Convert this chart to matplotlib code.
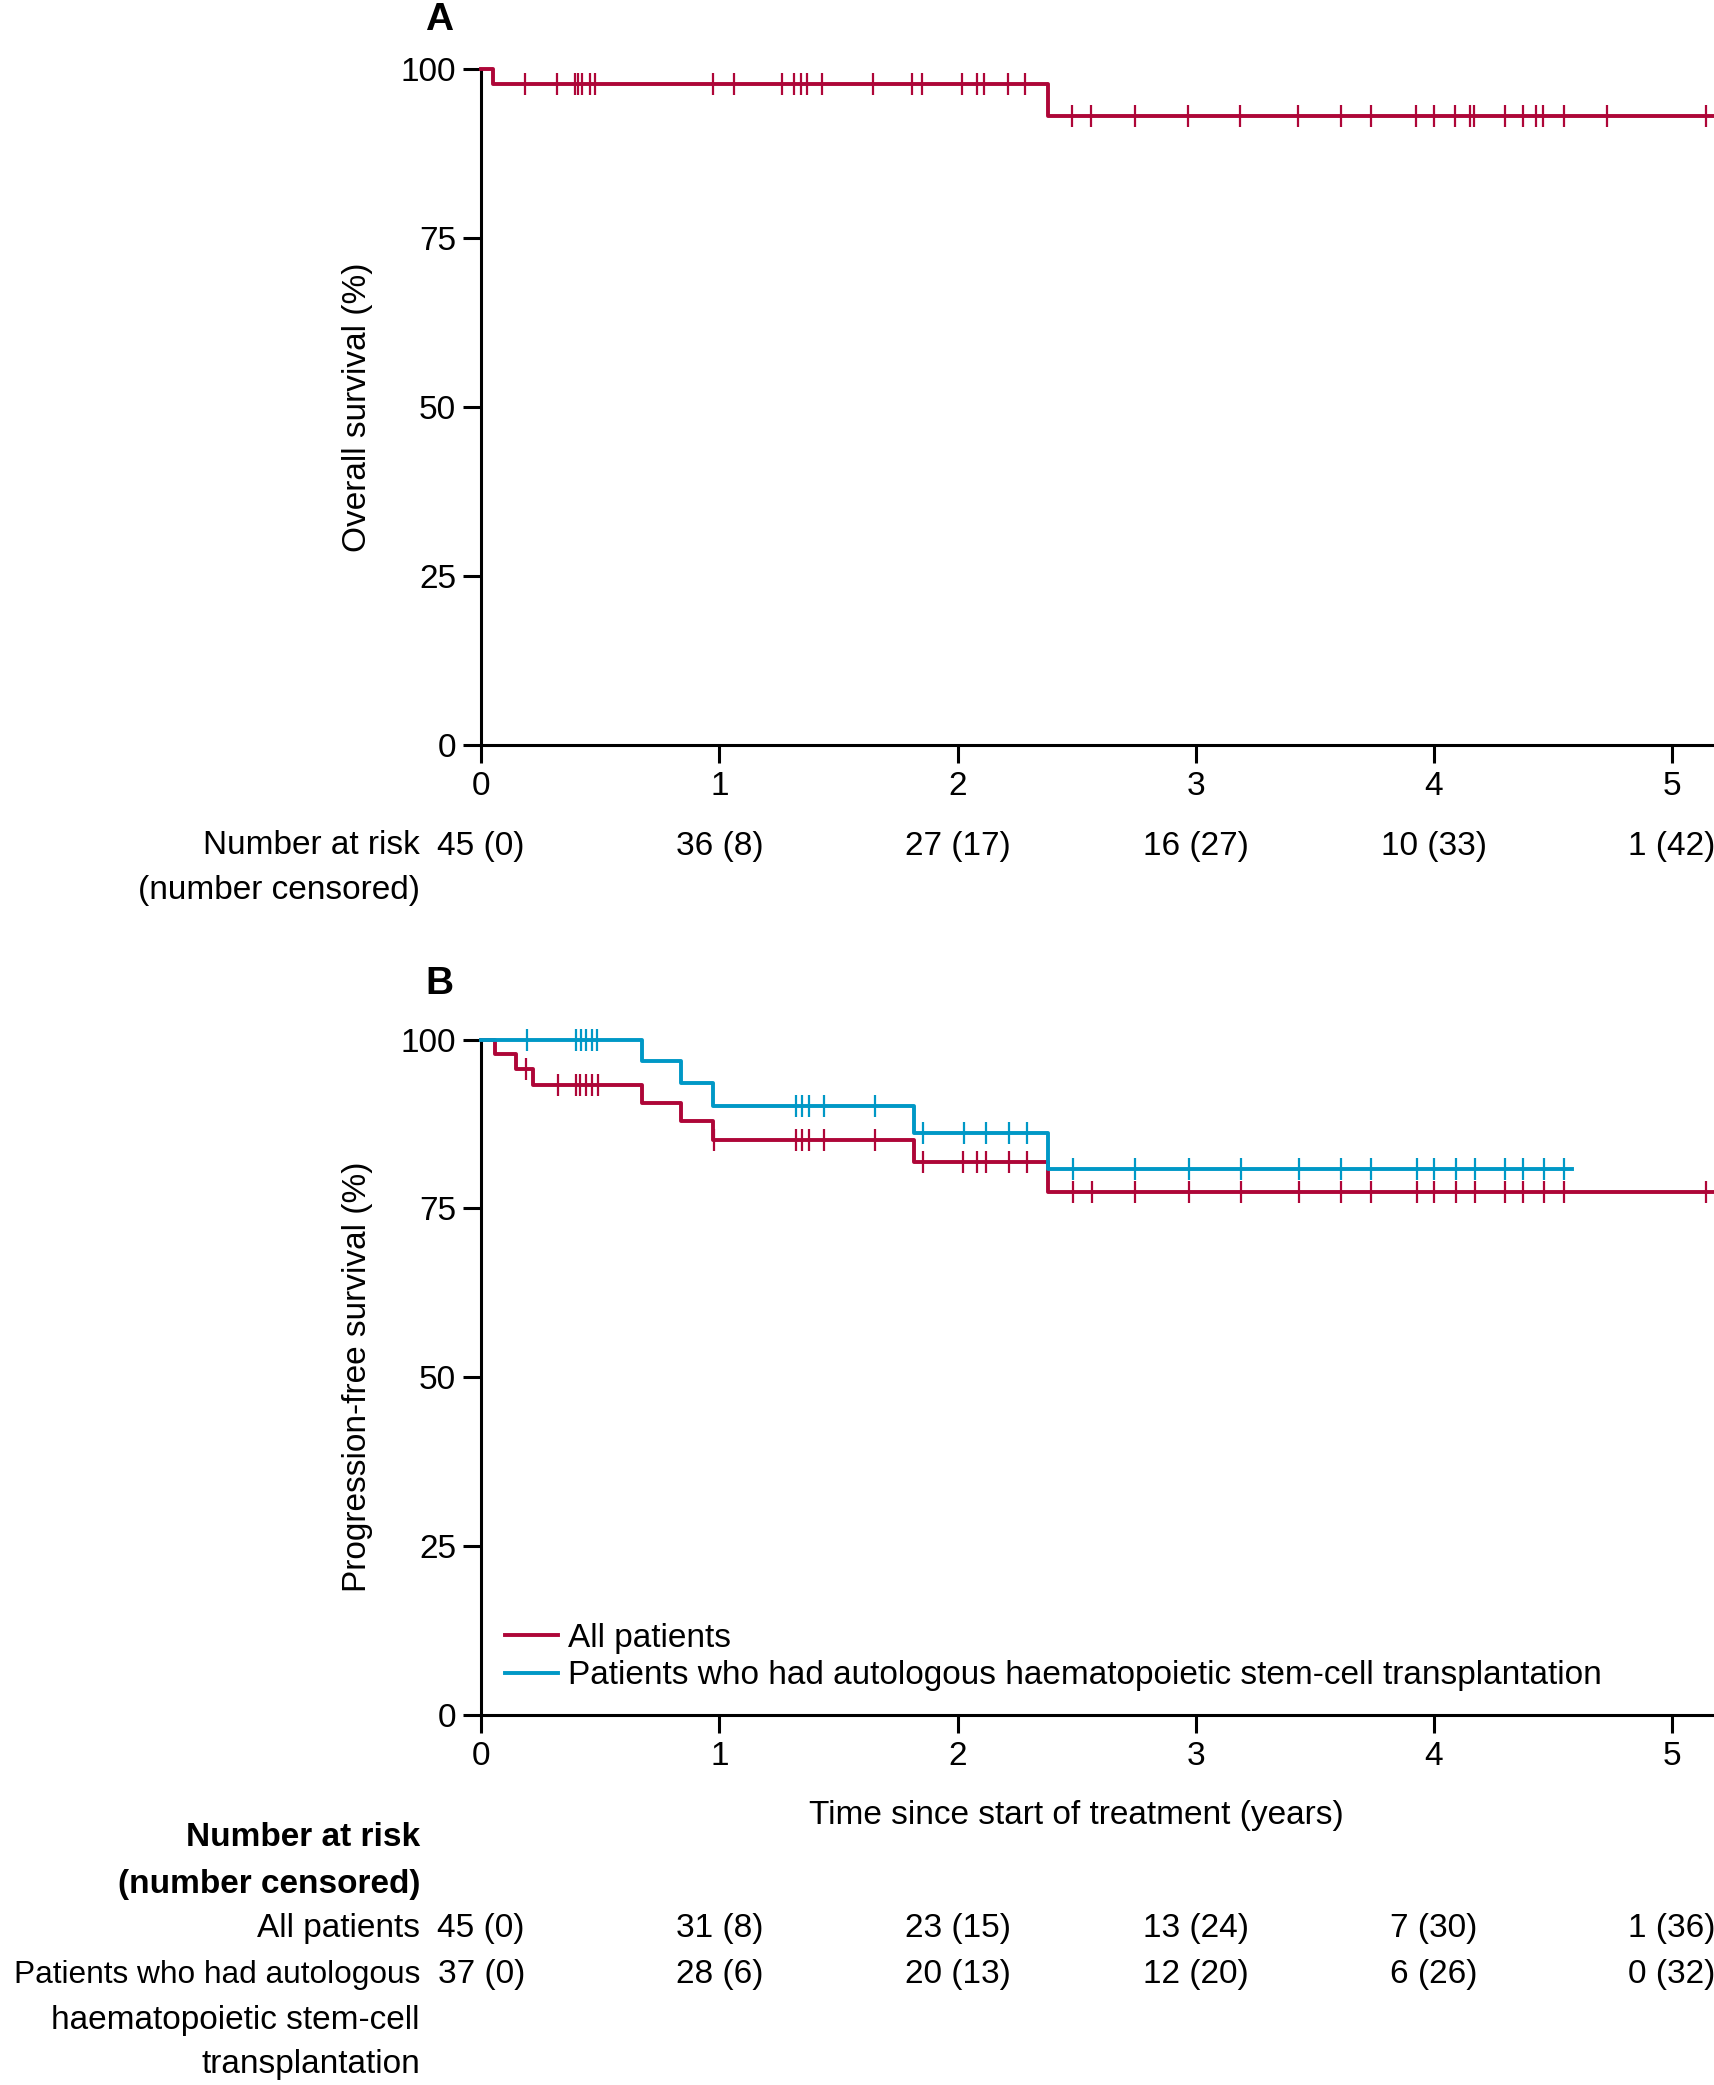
import matplotlib
matplotlib.use("Agg")
import matplotlib.pyplot as plt
import matplotlib.transforms as mtransforms
from matplotlib import font_manager
import numpy as np

# pick a condensed font if there is one
names = {f.name for f in font_manager.fontManager.ttflist}
if "Liberation Sans Narrow" in names:
    FONT = "Liberation Sans Narrow"
    FS = 28.5
else:
    FONT = "Liberation Sans"
    FS = 24
plt.rcParams["font.family"] = [FONT, "DejaVu Sans"]

RED = "#AE0638"
BLUE = "#0098C6"

# ---- data ----
years = [0, 1, 2, 3, 4, 5]
x_end = 5.18

# panel A: overall survival
os_event_t = [0.048, 2.378]
os_level = [97.8, 93.1]
os_cens = [0.185, 0.317, 0.392, 0.408, 0.424, 0.455, 0.479, 0.975, 1.062,
           1.262, 1.312, 1.343, 1.369, 1.430, 1.644, 1.807, 1.852, 2.018,
           2.080, 2.112, 2.211, 2.285, 2.481, 2.561, 2.745, 2.969, 3.185,
           3.428, 3.610, 3.734, 3.926, 4.002, 4.090, 4.150, 4.169, 4.299,
           4.374, 4.430, 4.458, 4.548, 4.726, 5.142]
risk_A = ["45 (0)", "36 (8)", "27 (17)", "16 (27)", "10 (33)", "1 (42)"]

# panel B: progression-free survival
pfs_all_t = [0.056, 0.145, 0.216, 0.673, 0.838, 0.973, 1.818, 2.378]
pfs_all_level = [97.8, 95.6, 93.3, 90.6, 88.0, 85.1, 81.8, 77.4]
pfs_all_cens = [0.190, 0.322, 0.397, 0.416, 0.438, 0.464, 0.490, 0.977,
                1.321, 1.346, 1.376, 1.439, 1.655, 1.856, 2.022, 2.083,
                2.121, 2.217, 2.290, 2.484, 2.564, 2.746, 2.972, 3.189,
                3.432, 3.610, 3.734, 3.927, 4.002, 4.092, 4.172, 4.299,
                4.374, 4.461, 4.548, 5.142]
pfs_auto_t = [0.673, 0.838, 0.973, 1.818, 2.378]
pfs_auto_level = [96.8, 93.6, 90.2, 86.2, 80.8]
pfs_auto_end = 4.58
pfs_auto_cens = [0.193, 0.399, 0.418, 0.440, 0.464, 0.488, 1.321, 1.346,
                 1.376, 1.439, 1.655, 1.856, 2.027, 2.121, 2.217, 2.290,
                 2.484, 2.746, 2.972, 3.189, 3.432, 3.610, 3.734, 3.927,
                 4.002, 4.092, 4.172, 4.299, 4.374, 4.461, 4.548]
risk_B_all = ["45 (0)", "31 (8)", "23 (15)", "13 (24)", "7 (30)", "1 (36)"]
risk_B_auto = ["37 (0)", "28 (6)", "20 (13)", "12 (20)", "6 (26)", "0 (32)"]


def km(ax, ev_t, lev, end, cens, color):
    t = np.r_[0, ev_t, end]
    s = np.r_[100, lev, lev[-1]]
    ax.step(t, s, where="post", color=color, lw=2.8, clip_on=False, zorder=3)
    idx = np.searchsorted(np.r_[0, ev_t], cens, side="right") - 1
    ax.plot(cens, s[idx], ls="none", marker="|", ms=16, mew=1.6,
            color=color, clip_on=False, zorder=3)


def style(ax, ylab):
    ax.set_xlim(0, x_end)
    ax.set_ylim(0, 100)
    ax.set_xticks(years)
    ax.set_yticks([0, 25, 50, 75, 100])
    for side in ["top", "right"]:
        ax.spines[side].set_visible(False)
    for side in ["left", "bottom"]:
        ax.spines[side].set_linewidth(2.2)
    ax.tick_params(direction="out", length=13, width=2.2, labelsize=FS)
    ax.tick_params(axis="y", pad=5)
    ax.tick_params(axis="x", pad=6)
    ax.set_ylabel(ylab, fontsize=FS)
    ax.yaxis.set_label_coords(-0.088, 0.5)


fig = plt.figure(figsize=(17.15, 20.85), dpi=100)
axA = fig.add_axes([0.2806, 0.6429, 0.7194, 0.3240])
axB = fig.add_axes([0.2806, 0.1775, 0.7194, 0.3239])

km(axA, os_event_t, os_level, x_end, os_cens, RED)
style(axA, "Overall survival (%)")

km(axB, pfs_all_t, pfs_all_level, x_end, pfs_all_cens, RED)
km(axB, pfs_auto_t, pfs_auto_level, pfs_auto_end, pfs_auto_cens, BLUE)
style(axB, "Progression-free survival (%)")

axB.plot([], [], color=RED, lw=2.8, label="All patients")
axB.plot([], [], color=BLUE, lw=2.8,
         label="Patients who had autologous haematopoietic stem-cell transplantation")
axB.legend(loc="lower left", bbox_to_anchor=(0.019, 0.035), frameon=False,
           fontsize=FS, handlelength=1.6, handletextpad=0.3,
           labelspacing=0.2, borderpad=0, borderaxespad=0)
axB.set_xlabel("Time since start of treatment (years)", fontsize=FS)
axB.xaxis.set_label_coords(2.5 / x_end, -0.1255)

# panel letters
fig.text(439 / 1715, 1 - 20 / 2085, "A", fontsize=FS + 4, fontweight="bold",
         ha="center", va="center")
fig.text(439 / 1715, 1 - 984 / 2085, "B", fontsize=FS + 4, fontweight="bold",
         ha="center", va="center")


def fy(px):
    return 1 - px / 2085


lx = 420 / 1715
# risk table A
trA = mtransforms.blended_transform_factory(axA.transData, fig.transFigure)
fig.text(lx, fy(846), "Number at risk", fontsize=FS, ha="right", va="center")
fig.text(lx, fy(891), "(number censored)", fontsize=FS, ha="right", va="center")
for x, s in zip(years, risk_A):
    axA.text(x, fy(846), s, transform=trA, fontsize=FS, ha="center", va="center")

# risk table B
trB = mtransforms.blended_transform_factory(axB.transData, fig.transFigure)
fig.text(lx, fy(1838), "Number at risk", fontsize=FS, ha="right", va="center",
         fontweight="bold")
fig.text(lx, fy(1884), "(number censored)", fontsize=FS, ha="right",
         va="center", fontweight="bold")
fig.text(lx, fy(1929), "All patients", fontsize=FS, ha="right", va="center")
fig.text(lx, fy(1975), "Patients who had autologous", fontsize=FS - 1.2,
         ha="right", va="center")
fig.text(lx, fy(2020), "haematopoietic stem-cell", fontsize=FS, ha="right", va="center")
fig.text(lx, fy(2065), "transplantation", fontsize=FS, ha="right", va="center")
for x, a, b in zip(years, risk_B_all, risk_B_auto):
    axB.text(x, fy(1929), a, transform=trB, fontsize=FS, ha="center", va="center")
    axB.text(x, fy(1975), b, transform=trB, fontsize=FS, ha="center", va="center")

fig.savefig("out.png", dpi=100)
